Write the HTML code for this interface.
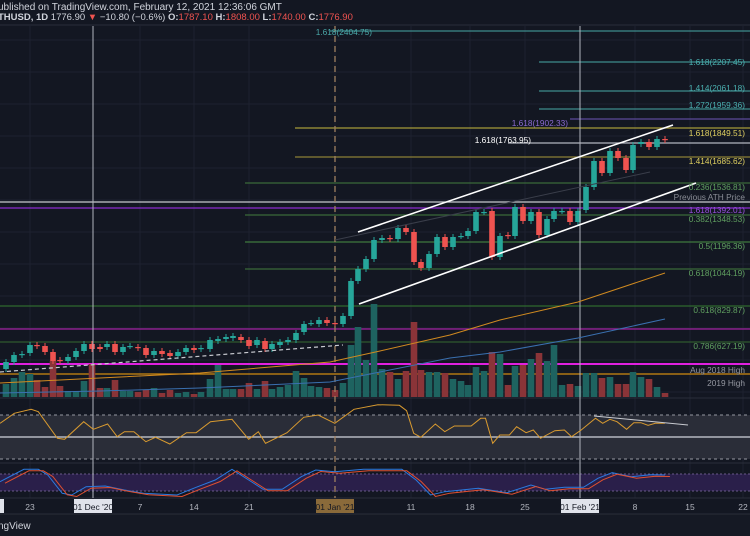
<!DOCTYPE html>
<html><head><meta charset="utf-8">
<style>
html,body{margin:0;padding:0;background:#131722;}
svg{display:block;font-family:"Liberation Sans",sans-serif;}
</style></head><body>
<svg id="s" width="750" height="536" viewBox="0 0 750 536" xmlns="http://www.w3.org/2000/svg">
<rect width="750" height="536" fill="#131722"/>
<line x1="0" y1="25" x2="750" y2="25" stroke="#2a2e39"/>
<text x="-2" y="10" fill="#d1d4dc" font-size="10">ublished on TradingView.com, February 12, 2021 12:36:06 GMT</text>
<text x="-2" y="20" fill="#d1d4dc" font-size="9.5" font-weight="bold">THUSD, 1D <tspan font-weight="normal">1776.90</tspan> <tspan fill="#ef5350">▼</tspan> <tspan font-weight="normal">−10.80 (−0.6%)</tspan> O:<tspan fill="#ef5350" font-weight="normal">1787.10</tspan> H:<tspan fill="#ef5350" font-weight="normal">1808.00</tspan> L:<tspan fill="#ef5350" font-weight="normal">1740.00</tspan> C:<tspan fill="#ef5350" font-weight="normal">1776.90</tspan></text>
<g id="grid" stroke="#1e2230" stroke-width="1"></g>
<g id="hl"></g>
<g id="vol"></g>
<g id="cd"></g>
<g id="ov"></g>
</svg>
<script>
const NS="http://www.w3.org/2000/svg";
function el(p,t,a,txt){const e=document.createElementNS(NS,t);for(const k in a)e.setAttribute(k,a[k]);if(txt!==undefined)e.textContent=txt;document.getElementById(p).appendChild(e);return e;}
[30,93,140,194,249,335,411,470,525,580,635,690,743].forEach(x=>el('grid','line',{x1:x,y1:26,x2:x,y2:498}));
for(let y=40;y<398;y+=32)el('grid','line',{x1:0,y1:y,x2:750,y2:y});
el('hl','line',{x1:0,y1:398,x2:750,y2:398,stroke:'#2a2e39'});
el('hl','rect',{x:0,y:415,width:750,height:44,fill:'#2a2d38'});
el('hl','line',{x1:0,y1:415,x2:750,y2:415,stroke:'#9598a1','stroke-dasharray':'3,3'});
el('hl','line',{x1:0,y1:459,x2:750,y2:459,stroke:'#9598a1','stroke-dasharray':'3,3'});
el('hl','line',{x1:0,y1:437,x2:750,y2:437,stroke:'#d1d4dc','stroke-width':1.3});
el('hl','line',{x1:0,y1:463,x2:750,y2:463,stroke:'#2a2e39'});
el('hl','rect',{x:0,y:474,width:750,height:17,fill:'#2a1f4a'});
el('hl','line',{x1:0,y1:474,x2:750,y2:474,stroke:'#6a5a8a','stroke-dasharray':'2,2'});
el('hl','line',{x1:0,y1:491,x2:750,y2:491,stroke:'#6a5a8a','stroke-dasharray':'2,2'});
el('hl','line',{x1:0,y1:498,x2:750,y2:498,stroke:'#2a2e39'});
el('hl','rect',{x:0,y:514,width:750,height:22,fill:'#151924'});
el('hl','line',{x1:0,y1:514,x2:750,y2:514,stroke:'#2a2e39'});
el('hl','text',{x:-2,y:529,fill:'#d1d4dc','font-size':10},'ngView');
const L=[
[31,330,'#3d8c8c'],[62,539,'#3d8c8c'],[91,539,'#3d8c8c'],[109,539,'#3d8c8c'],[119,570,'#5b4a9a'],
[128,295,'#a59a3a'],[143,508,'#b2b5be'],[157,295,'#8a8035'],[183,245,'#3a6a3a'],[202,0,'#c8cad0'],
[208,0,'#8a2bd0'],[215,245,'#3a6a3a'],[242,245,'#3e7a3e'],[269,245,'#3a6a3a'],[306,0,'#2e6a2e'],
[329,0,'#a020a0'],[342,0,'#2e5a2e'],[364,0,'#e020e0'],[374,0,'#d08a10']];
L.forEach(l=>el('hl','line',{x1:l[1],y1:l[0],x2:750,y2:l[0],stroke:l[2],'stroke-width':(l[0]==364?2:1.2)}));
el('ov','line',{x1:93,y1:26,x2:93,y2:498,stroke:'#b2b5be','stroke-width':1});
el('ov','line',{x1:580,y1:26,x2:580,y2:498,stroke:'#b2b5be','stroke-width':1});
el('ov','line',{x1:335,y1:26,x2:335,y2:498,stroke:'#a08060','stroke-width':1.3,'stroke-dasharray':'6,4'});
const C=[[6,369,362],[14,362,355],[22,355,354],[30,353,345],[37,345,346],[45,346,352],[53,352,361],[60,360,361],[68,361,357],[76,357,351],[84,351,344],[92,344,349],[100,347,349],[107,347,344],[115,344,352],[123,352,347],[130,346,346],[138,347,348],[146,348,355],[154,355,351],[162,351,354],[170,353,356],[178,356,352],[186,352,348],[194,348,350],[201,349,348],[210,349,340],[218,341,339],[226,339,337],[233,338,336],[241,337,340],[249,340,346],[257,345,340],[265,341,349],[272,349,344],[280,345,342],[288,342,340],[296,340,333],[304,332,324],[311,323,323],[319,324,320],[327,320,323],[335,323,324],[343,324,316],[351,316,281],[358,281,269],[366,269,259],[374,259,240],[382,240,238],[390,238,239],[398,239,228],[406,228,232],[414,232,262],[421,262,268],[429,268,254],[437,254,237],[445,237,247],[453,247,237],[461,236,236],[468,236,231],[476,231,212],[484,212,212],[492,211,257],[500,257,236],[508,235,236],[515,236,207],[523,207,221],[531,221,212],[539,212,235],[547,235,219],[554,219,211],[562,211,211],[570,211,222],[578,222,211],[586,210,187],[594,187,161],[602,161,173],[610,173,151],[618,151,158],[626,158,170],[633,170,145],[641,144,142],[649,142,147],[657,147,139],[665,139,140]];
const V={6:384,14:378,22:372,30:374,37:380,45:387,53:361,60:386,68:391,76:391,84:381,92:364,100:388,107:388,115:380,123:391,130:391,138:392,146:390,154:388,162:393,170:390,178:393,186:392,194:394,201:392,210:379,218:365,226:389,233:389,241:389,249:383,257:389,265:381,272:389,280:387,288:385,296:371,304:378,311:386,319:387,327:388,335:390,343:383,351:345,358:327,366:360,374:304,382:369,390:372,398:379,406:371,414:322,421:370,429:372,437:372,445:373,453:379,461:381,468:385,476:367,484:371,492:352,500:354,508:385,515:366,523:365,531:359,539:353,547:361,554:345,562:385,570:384,578:386,586:373,594:373,602:378,610:377,618:384,626:384,633:372,641:377,649:379,657:387,665:393};
C.forEach(c=>{const [x,o,cl]=c;const up=cl<=o;const col=up?'#26a69a':'#ef5350';
 const vt=V[x]||388;el('vol','rect',{x:x-3.3,y:vt,width:6.6,height:397-vt,fill:up?'#1e6360':'#8a3438'});
 const t=Math.min(o,cl),b=Math.max(o,cl);
 el('cd','line',{x1:x,y1:t-3,x2:x,y2:b+3,stroke:col,'stroke-width':1});
 el('cd','rect',{x:x-2.8,y:t,width:5.6,height:Math.max(1.2,b-t),fill:col});});
el('ov','polyline',{points:'0,383 100,378 200,373 330,362 380,351 450,335 500,320 578,302 665,273',fill:'none',stroke:'#d08a20','stroke-width':1});
el('ov','polyline',{points:'0,393 100,391 200,388 330,382 380,372 450,358 500,352 578,338 665,319',fill:'none',stroke:'#3a70b0','stroke-width':1});
el('ov','line',{x1:0,y1:372,x2:343,y2:345,stroke:'#c8cad0','stroke-dasharray':'4,3','stroke-width':1.2});
el('ov','line',{x1:335,y1:240,x2:650,y2:172,stroke:'#3a3e4a','stroke-width':1});
el('ov','line',{x1:358,y1:232,x2:673,y2:125,stroke:'#ffffff','stroke-width':1.6});
el('ov','line',{x1:359,y1:304,x2:696,y2:183,stroke:'#ffffff','stroke-width':1.6});
const T=[[372,35,'#4aa8a8','1.618(2404.75)','end'],[745,65,'#4ab0b0','1.618(2207.45)'],[745,91,'#4ab0b0','1.414(2061.18)'],[745,108,'#4ab0b0','1.272(1959.36)'],[568,126,'#8a6ad0','1.618(1902.33)','end'],[745,136,'#e0d060','1.618(1849.51)'],[531,143,'#ffffff','1.618(1763.95)','end'],[745,164,'#e0d060','1.414(1685.62)'],[745,190,'#60a060','0.236(1536.81)'],[745,200,'#8a8d96','Previous ATH Price'],[745,213,'#9a50e0','1.618(1392.01)'],[745,222,'#60a060','0.382(1348.53)'],[745,249,'#60a060','0.5(1196.36)'],[745,276,'#60a060','0.618(1044.19)'],[745,313,'#60a060','0.618(829.87)'],[745,349,'#60a060','0.786(627.19)'],[745,373,'#9598a1','Aug 2018 High'],[745,386,'#9598a1','2019 High']];
T.forEach(t=>el('ov','text',{x:t[0],y:t[1],fill:t[2],'font-size':8.3,'text-anchor':t[4]||'end'},t[3]));
const R=[[0,130],[30,100],[65,88],[80,95],[120,175],[135,178],[175,125],[195,148],[225,132],[245,170],[260,155],[280,155],[305,185],[325,172],[355,192],[390,158],[410,158],[440,125],[485,118],[520,178],[540,155],[555,190],[600,158],[635,112],[665,105],[700,130],[740,88],[790,74],[835,76],[850,92],[865,160],[880,172],[910,132],[930,155],[950,138],[985,138],[1005,115],[1015,115],[1030,190],[1045,165],[1065,165],[1080,140],[1100,158],[1115,150],[1130,175],[1160,152],[1180,150],[1195,170],[1215,150],[1245,115],[1260,130],[1275,118],[1290,125],[1310,148],[1325,128],[1340,128],[1355,136],[1370,130],[1390,130]];
const sx=750/1568;
el('ov','polyline',{points:R.map(p=>(p[0]*sx).toFixed(1)+','+(380+p[1]/3).toFixed(1)).join(' '),fill:'none',stroke:'#d89a30','stroke-width':1});
el('ov','line',{x1:594,y1:416,x2:688,y2:425,stroke:'#c8cad0','stroke-width':1});
const S=[[0,305],[50,268],[80,268],[100,285],[130,340],[150,345],[180,320],[220,318],[260,330],[300,340],[370,345],[410,322],[450,300],[485,268],[520,300],[550,328],[590,328],[630,290],[660,270],[700,275],[760,268],[840,268],[870,300],[900,345],[930,335],[1000,325],[1060,338],[1110,315],[1140,328],[1180,322],[1220,322],[1250,295],[1280,278],[1320,290],[1360,284],[1390,285]];
el('ov','polyline',{points:S.map(p=>(p[0]*sx).toFixed(1)+','+(380+p[1]/3).toFixed(1)).join(' '),fill:'none',stroke:'#2a7ae0','stroke-width':1});
el('ov','polyline',{points:S.map(p=>(p[0]*sx+5).toFixed(1)+','+(380+p[1]/3+1.5).toFixed(1)).join(' '),fill:'none',stroke:'#e05030','stroke-width':1});
el('ov','rect',{x:0,y:499,width:4,height:14,fill:'#e0e3eb'});
[[30,'23'],[140,'7'],[194,'14'],[249,'21'],[411,'11'],[470,'18'],[525,'25'],[635,'8'],[690,'15'],[743,'22']].forEach(d=>el('ov','text',{x:d[0],y:510,fill:'#b2b5be','font-size':8.5,'text-anchor':'middle'},d[1]));
[[93,"01 Dec '20",'#e0e3eb','#131722'],[335,"01 Jan '21",'#8a6a3a','#131722'],[580,"01 Feb '21",'#e0e3eb','#131722']].forEach(d=>{el('ov','rect',{x:d[0]-19,y:499,width:38,height:14,fill:d[2]});el('ov','text',{x:d[0],y:510,fill:d[3],'font-size':8.5,'text-anchor':'middle'},d[1]);});
</script>
</body></html>
